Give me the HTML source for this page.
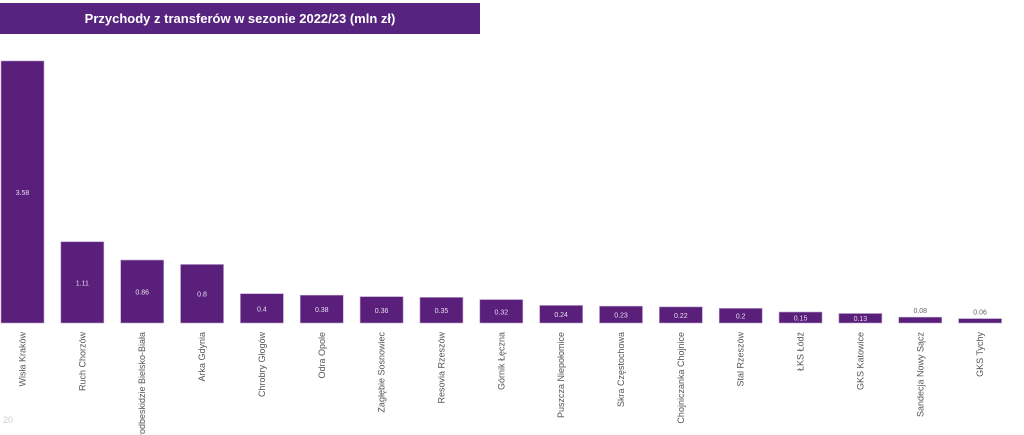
<!DOCTYPE html>
<html><head><meta charset="utf-8"><style>
body{margin:0;background:#fff;width:1024px;height:435px;overflow:hidden;position:relative;font-family:"Liberation Sans",sans-serif}
.t{position:absolute;left:0;top:3px;width:480px;height:31px;background:#56237e;color:#fff;font-size:13px;font-weight:bold;text-align:center;line-height:31px}
</style></head><body>
<div class="t">Przychody z transferów w sezonie 2022/23 (mln zł)</div>
<svg width="1024" height="435" style="position:absolute;left:0;top:0">
<g id="g"></g>
<text x="3" y="423" font-size="9" fill="#ccc" font-family="Liberation Sans">20</text>
</svg>
<script>
var d=[["Wisła Kraków",3.58],["Ruch Chorzów",1.11],["Podbeskidzie Bielsko-Biała",0.86],["Arka Gdynia",0.8],["Chrobry Głogów",0.4],["Odra Opole",0.38],["Zagłębie Sosnowiec",0.36],["Resovia Rzeszów",0.35],["Górnik Łęczna",0.32],["Puszcza Niepołomice",0.24],["Skra Częstochowa",0.23],["Chojniczanka Chojnice",0.22],["Stal Rzeszów",0.2],["ŁKS Łódź",0.15],["GKS Katowice",0.13],["Sandecja Nowy Sącz",0.08],["GKS Tychy",0.06]];
var s="",b=323,k=73.2;
d.forEach(function(e,i){var x=1+i*59.85,h=e[1]*k,y=b-h,c=x+21.5;
s+='<rect x="'+x+'" y="'+y+'" width="43" height="'+h+'" fill="#5a1f7a" stroke="#b9a0cc" stroke-width="0.6"/>';
var ty=h<8?y-4:y+h/2+3,col=h<8?"#666":"#e6dcef";
s+='<text x="'+c+'" y="'+ty+'" font-size="7" fill="'+col+'" text-anchor="middle">'+e[1]+'</text>';
s+='<text transform="translate('+(c+3)+',332) rotate(-90)" font-size="9" fill="#555" text-anchor="end">'+e[0]+'</text>';});
document.getElementById("g").innerHTML=s;
</script>
</body></html>
